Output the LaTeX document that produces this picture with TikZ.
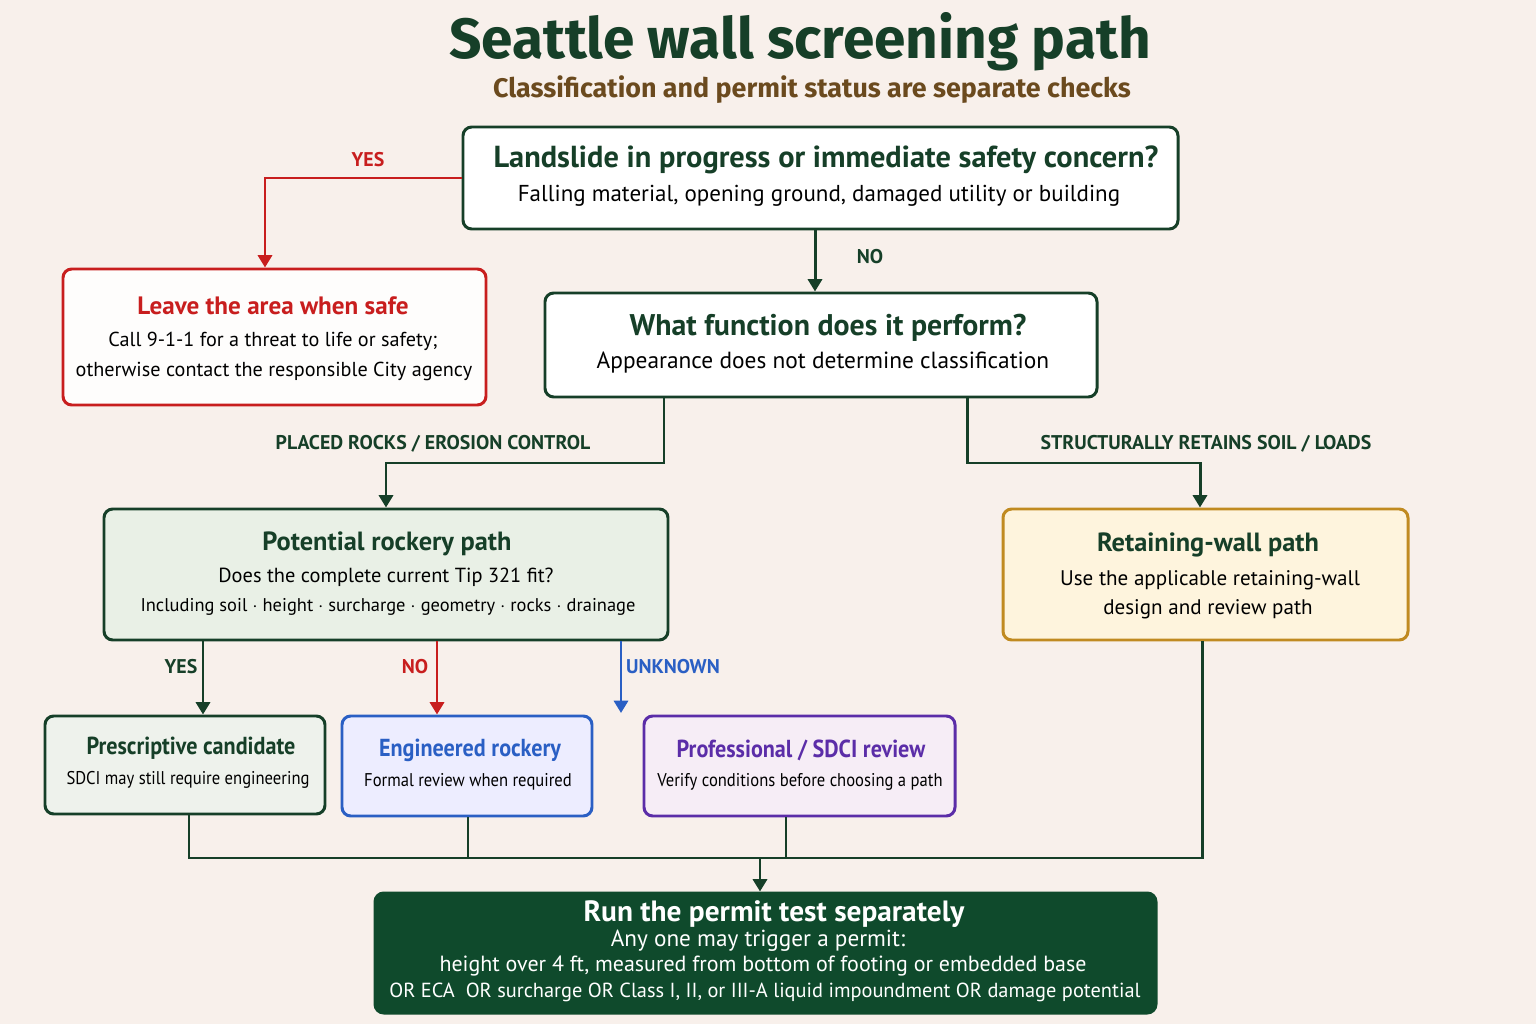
\documentclass[tikz,border=0pt]{standalone}
\usepackage{fontspec}
\setmainfont{PT Sans}
\newfontfamily\cond{PT Sans}[FakeStretch=0.9]
\newfontfamily\titlef{Fira Sans}
\usetikzlibrary{calc,arrows.meta}
\definecolor{bg}{HTML}{F8F0EB}
\definecolor{dg}{HTML}{163F28}
\definecolor{br}{HTML}{6B4A1E}
\definecolor{rd}{HTML}{C81E1E}
\definecolor{bl}{HTML}{2A5FC4}
\definecolor{pu}{HTML}{5B2DA8}
\definecolor{or}{HTML}{C08A20}
\definecolor{fin}{HTML}{0F4A2C}
\definecolor{rkf}{HTML}{E9F0E6}
\definecolor{pcf}{HTML}{EEF2EC}
\newcommand\uu{0.02cm}
\newcommand\fs[1]{\fontsize{#1}{#1}\selectfont}
\tikzset{
 box/.style={draw=#1,line width=1.7pt,rounded corners=5pt,inner sep=0pt},
 hd/.style={font=\fs{15}\bfseries,text=dg},
 bd/.style={font=\fs{12},text=black},
 lab/.style={font=\fs{11.3}\bfseries},
 arr/.style={line width=1.7pt,-{Triangle[length=7pt,width=8pt]}},
 ln/.style={line width=1.7pt}
}
\begin{document}
\begin{tikzpicture}[x=\uu,y=-\uu]
\fill[bg] (0,0) rectangle (1536,1024);
\useasboundingbox (0,0) rectangle (1536,1024);
\node[font=\titlef\fs{32.3}\bfseries,text=dg] (title) at (800,42) {Seattle wall screening path};
\node[font=\titlef\fs{15.3}\bfseries,text=br] (sub) at (812,90) {Classification and permit status are separate checks};
% boxes
\node[box=dg,fill=white,minimum width={715*\uu},minimum height={102*\uu}] (q1) at (820.5,178) {};
\node[hd,font=\fs{17.3}\bfseries] (q1h) at (826,160) {Landslide in progress or immediate safety concern?};
\node[bd,font=\fs{13.1}] (q1b) at (819,196) {Falling material, opening ground, damaged utility or building};
\node[box=rd,fill=white!85!bg,minimum width={423*\uu},minimum height={136*\uu}] (lv) at (274.5,337) {};
\node[hd,font=\fs{14.3}\bfseries,text=rd] (lvh) at (273,306) {Leave the area when safe};
\node[bd,font=\fs{11.5}] (lv1) at (273,341) {Call 9-1-1 for a threat to life or safety;};
\node[bd,font=\fs{11.5}] (lv2) at (274,371) {otherwise contact the responsible City agency};
\node[box=dg,fill=white,minimum width={552*\uu},minimum height={104*\uu}] (q2) at (821,345) {};
\node[hd,font=\fs{17}\bfseries] (q2h) at (828,328) {What function does it perform?};
\node[bd,font=\fs{13.3}] (q2b) at (823,363) {Appearance does not determine classification};
\node[box=dg,fill=rkf,minimum width={564*\uu},minimum height={131*\uu}] (rk) at (386,574.5) {};
\node[hd] (rkh) at (387,544) {Potential rockery path};
\node[bd,font=\fs{11.6}] (rk1) at (386,577) {Does the complete current Tip 321 fit?};
\node[bd,font=\fs{10.5}] (rk2) at (388,607) {Including soil $\cdot$ height $\cdot$ surcharge $\cdot$ geometry $\cdot$ rocks $\cdot$ drainage};
\node[box=or,fill=yellow!40!orange!12!white,minimum width={405*\uu},minimum height={131*\uu}] (rw) at (1205.5,574.5) {};
\node[hd] (rwh) at (1208,545) {Retaining-wall path};
\node[bd] (rw1) at (1210,580) {Use the applicable retaining-wall};
\node[bd] (rw2) at (1208,609) {design and review path};
\node[box=dg,fill=pcf,minimum width={280*\uu},minimum height={98*\uu}] (pc) at (185,765) {};
\node[hd,font=\cond\fs{14}\bfseries] (pch) at (191,748) {Prescriptive candidate};
\node[bd,font=\cond\fs{10.5}] (pcb) at (188,780) {SDCI may still require engineering};
\node[box=bl,fill=blue!7!white,minimum width={250*\uu},minimum height={100*\uu}] (er) at (467,766) {};
\node[hd,font=\cond\fs{14}\bfseries,text=bl] (erh) at (470,750) {Engineered rockery};
\node[bd,font=\cond\fs{10.5}] (erb) at (468,782) {Formal review when required};
\node[box=pu,fill=violet!7!white,minimum width={311*\uu},minimum height={100*\uu}] (pr) at (799.5,766) {};
\node[hd,font=\cond\fs{14}\bfseries,text=pu] (prh) at (801,750) {Professional / SDCI review};
\node[bd,font=\cond\fs{10.5}] (prb) at (800,782) {Verify conditions before choosing a path};
\node[box=fin,fill=fin,minimum width={781*\uu},minimum height={120*\uu}] (fn) at (765.5,953) {};
\node[font=\fs{16.7}\bfseries,text=white] (fnh) at (774,914) {Run the permit test separately};
\node[font=\fs{13.2},text=white] (fn1) at (758,941) {Any one may trigger a permit:};
\node[font=\fs{12.5},text=white] (fn2) at (763,966) {height over 4 ft, measured from bottom of footing or embedded base};
\node[font=\fs{11.6},text=white] (fn3) at (765,992) {OR ECA\ \ OR surcharge OR Class I, II, or III-A liquid impoundment OR damage potential};
% connectors
\draw[arr,rd] (q1.west) -| ($(lv.north)+(-9.5,0)$);
\node[lab,text=rd] (ly) at (368,160) {YES};
\draw[arr,dg] ($(q1.south)+(-5.5,0)$) -- ($(q2.north)+(-6,0)$);
\node[lab,text=dg] (ln) at (870,257) {NO};
\coordinate (b1) at (664,463);
\coordinate (b2) at (967,463);
\draw[arr,dg] (q2.south -| b1) -- (b1) -| (rk.north);
\node[lab,text=dg] (lpr) at (433,444) {PLACED ROCKS / EROSION CONTROL};
\draw[arr,dg] (q2.south -| b2) -- (b2) -| ($(rw.north)+(-5.5,0)$);
\node[lab,text=dg] (lsr) at (1206,444) {STRUCTURALLY RETAINS SOIL / LOADS};
\draw[arr,dg] (rk.south -| 203,0) -- (pc.north -| 203,0);
\node[lab,text=dg] (l1) at (181,667) {YES};
\draw[arr,rd] (rk.south -| 437,0) -- (er.north -| 437,0);
\node[lab,text=rd] (l2) at (415,667) {NO};
\coordinate (uk) at (621,713);
\draw[arr,bl] (rk.south -| uk) -- (uk);
\node[lab,text=bl] (l3) at (673,667) {UNKNOWN};
\coordinate (m1) at (189,858);
\coordinate (m2) at (1202,858);
\coordinate (mc) at (760,858);
\draw[ln,dg] (pc.south -| m1) -- (m1) -- (m2) -- (rw.south -| m2);
\draw[ln,dg] (er.south -| 468,0) -- (468,858);
\draw[ln,dg] (pr.south -| 786,0) -- (786,858);
\draw[arr,dg] (mc) -- (fn.north -| mc);
\end{tikzpicture}
\end{document}
